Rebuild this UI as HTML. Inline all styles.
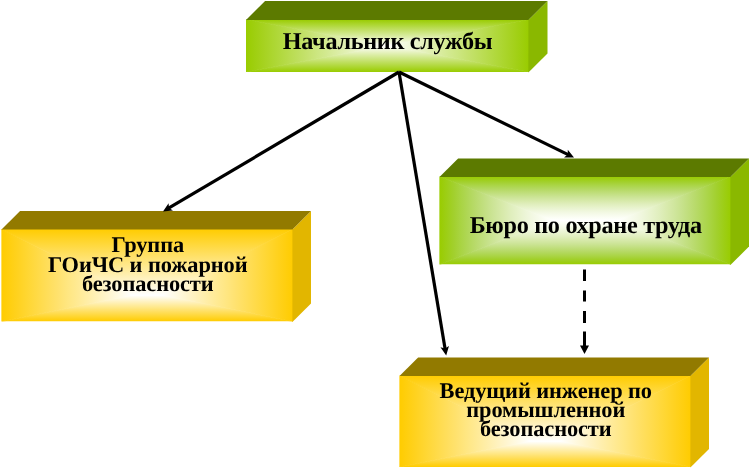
<!DOCTYPE html>
<html><head><meta charset="utf-8"><style>
html,body{margin:0;padding:0;background:#fff;}
body{width:750px;height:469px;position:relative;overflow:hidden;}
svg.main{position:absolute;left:0;top:0;}
.t{position:absolute;text-align:center;font-family:"Liberation Serif",serif;font-weight:bold;color:#000;white-space:nowrap;will-change:transform;text-rendering:geometricPrecision;}
</style></head><body>
<svg class="main" width="750" height="469" viewBox="0 0 750 469">
<linearGradient id="b1v" gradientUnits="userSpaceOnUse" x1="0" y1="19.5" x2="0" y2="45.75"><stop offset="0.000" stop-color="#99cc00"/><stop offset="0.062" stop-color="#9fcf10"/><stop offset="0.125" stop-color="#a6d220"/><stop offset="0.188" stop-color="#acd630"/><stop offset="0.250" stop-color="#b2d940"/><stop offset="0.312" stop-color="#b9dc50"/><stop offset="0.375" stop-color="#bfdf60"/><stop offset="0.438" stop-color="#c6e270"/><stop offset="0.500" stop-color="#cce680"/><stop offset="0.562" stop-color="#d2e98f"/><stop offset="0.625" stop-color="#d9ec9f"/><stop offset="0.688" stop-color="#dfefaf"/><stop offset="0.750" stop-color="#e6f2bf"/><stop offset="0.812" stop-color="#ecf5cf"/><stop offset="0.875" stop-color="#f2f9df"/><stop offset="0.938" stop-color="#f9fcef"/><stop offset="1.000" stop-color="#ffffff"/></linearGradient>
<linearGradient id="b1vb" gradientUnits="userSpaceOnUse" x1="0" y1="72" x2="0" y2="45.75"><stop offset="0.000" stop-color="#99cc00"/><stop offset="0.062" stop-color="#9fcf10"/><stop offset="0.125" stop-color="#a6d220"/><stop offset="0.188" stop-color="#acd630"/><stop offset="0.250" stop-color="#b2d940"/><stop offset="0.312" stop-color="#b9dc50"/><stop offset="0.375" stop-color="#bfdf60"/><stop offset="0.438" stop-color="#c6e270"/><stop offset="0.500" stop-color="#cce680"/><stop offset="0.562" stop-color="#d2e98f"/><stop offset="0.625" stop-color="#d9ec9f"/><stop offset="0.688" stop-color="#dfefaf"/><stop offset="0.750" stop-color="#e6f2bf"/><stop offset="0.812" stop-color="#ecf5cf"/><stop offset="0.875" stop-color="#f2f9df"/><stop offset="0.938" stop-color="#f9fcef"/><stop offset="1.000" stop-color="#ffffff"/></linearGradient>
<linearGradient id="b1h" gradientUnits="userSpaceOnUse" x1="246" y1="0" x2="387.5" y2="0"><stop offset="0.000" stop-color="#99cc00"/><stop offset="0.062" stop-color="#9fcf10"/><stop offset="0.125" stop-color="#a6d220"/><stop offset="0.188" stop-color="#acd630"/><stop offset="0.250" stop-color="#b2d940"/><stop offset="0.312" stop-color="#b9dc50"/><stop offset="0.375" stop-color="#bfdf60"/><stop offset="0.438" stop-color="#c6e270"/><stop offset="0.500" stop-color="#cce680"/><stop offset="0.562" stop-color="#d2e98f"/><stop offset="0.625" stop-color="#d9ec9f"/><stop offset="0.688" stop-color="#dfefaf"/><stop offset="0.750" stop-color="#e6f2bf"/><stop offset="0.812" stop-color="#ecf5cf"/><stop offset="0.875" stop-color="#f2f9df"/><stop offset="0.938" stop-color="#f9fcef"/><stop offset="1.000" stop-color="#ffffff"/></linearGradient>
<linearGradient id="b1hr" gradientUnits="userSpaceOnUse" x1="529" y1="0" x2="387.5" y2="0"><stop offset="0.000" stop-color="#99cc00"/><stop offset="0.062" stop-color="#9fcf10"/><stop offset="0.125" stop-color="#a6d220"/><stop offset="0.188" stop-color="#acd630"/><stop offset="0.250" stop-color="#b2d940"/><stop offset="0.312" stop-color="#b9dc50"/><stop offset="0.375" stop-color="#bfdf60"/><stop offset="0.438" stop-color="#c6e270"/><stop offset="0.500" stop-color="#cce680"/><stop offset="0.562" stop-color="#d2e98f"/><stop offset="0.625" stop-color="#d9ec9f"/><stop offset="0.688" stop-color="#dfefaf"/><stop offset="0.750" stop-color="#e6f2bf"/><stop offset="0.812" stop-color="#ecf5cf"/><stop offset="0.875" stop-color="#f2f9df"/><stop offset="0.938" stop-color="#f9fcef"/><stop offset="1.000" stop-color="#ffffff"/></linearGradient>
<svg x="246" y="19.5" width="283" height="52.5" viewBox="246 19.5 283 52.5" overflow="hidden">
<rect x="246" y="19.5" width="283" height="52.5" fill="#fff"/>
<polygon points="246,19.5 387.5,45.75 246,72" fill="url(#b1h)" stroke="url(#b1h)" stroke-width="1" stroke-linejoin="round"/>
<polygon points="529,19.5 387.5,45.75 529,72" fill="url(#b1hr)" stroke="url(#b1hr)" stroke-width="1" stroke-linejoin="round"/>
<polygon points="246,19.5 529,19.5 387.5,45.75 387.5,45.75" fill="url(#b1v)"/>
<polygon points="246,72 529,72 387.5,45.75 387.5,45.75" fill="url(#b1vb)"/>
</svg>
<polygon points="528.4,20.1 547.5,1.0 547.5,53.5 528.4,72.6" fill="#8ab800"/>
<polygon points="246,20.1 265.1,1.0 547.5,1.0 528.4,20.1" fill="#5c7a00"/>
<linearGradient id="b2v" gradientUnits="userSpaceOnUse" x1="0" y1="229" x2="0" y2="295.25"><stop offset="0.000" stop-color="#ffcc00"/><stop offset="0.062" stop-color="#ffcf10"/><stop offset="0.125" stop-color="#ffd220"/><stop offset="0.188" stop-color="#ffd630"/><stop offset="0.250" stop-color="#ffd940"/><stop offset="0.312" stop-color="#ffdc50"/><stop offset="0.375" stop-color="#ffdf60"/><stop offset="0.438" stop-color="#ffe270"/><stop offset="0.500" stop-color="#ffe680"/><stop offset="0.562" stop-color="#ffe98f"/><stop offset="0.625" stop-color="#ffec9f"/><stop offset="0.688" stop-color="#ffefaf"/><stop offset="0.750" stop-color="#fff2bf"/><stop offset="0.812" stop-color="#fff5cf"/><stop offset="0.875" stop-color="#fff9df"/><stop offset="0.938" stop-color="#fffcef"/><stop offset="1.000" stop-color="#ffffff"/></linearGradient>
<linearGradient id="b2vb" gradientUnits="userSpaceOnUse" x1="0" y1="321.5" x2="0" y2="295.25"><stop offset="0.000" stop-color="#ffcc00"/><stop offset="0.062" stop-color="#ffcf10"/><stop offset="0.125" stop-color="#ffd220"/><stop offset="0.188" stop-color="#ffd630"/><stop offset="0.250" stop-color="#ffd940"/><stop offset="0.312" stop-color="#ffdc50"/><stop offset="0.375" stop-color="#ffdf60"/><stop offset="0.438" stop-color="#ffe270"/><stop offset="0.500" stop-color="#ffe680"/><stop offset="0.562" stop-color="#ffe98f"/><stop offset="0.625" stop-color="#ffec9f"/><stop offset="0.688" stop-color="#ffefaf"/><stop offset="0.750" stop-color="#fff2bf"/><stop offset="0.812" stop-color="#fff5cf"/><stop offset="0.875" stop-color="#fff9df"/><stop offset="0.938" stop-color="#fffcef"/><stop offset="1.000" stop-color="#ffffff"/></linearGradient>
<linearGradient id="b2h" gradientUnits="userSpaceOnUse" x1="1.5" y1="0" x2="132.675" y2="0"><stop offset="0.000" stop-color="#ffcc00"/><stop offset="0.062" stop-color="#ffcf10"/><stop offset="0.125" stop-color="#ffd220"/><stop offset="0.188" stop-color="#ffd630"/><stop offset="0.250" stop-color="#ffd940"/><stop offset="0.312" stop-color="#ffdc50"/><stop offset="0.375" stop-color="#ffdf60"/><stop offset="0.438" stop-color="#ffe270"/><stop offset="0.500" stop-color="#ffe680"/><stop offset="0.562" stop-color="#ffe98f"/><stop offset="0.625" stop-color="#ffec9f"/><stop offset="0.688" stop-color="#ffefaf"/><stop offset="0.750" stop-color="#fff2bf"/><stop offset="0.812" stop-color="#fff5cf"/><stop offset="0.875" stop-color="#fff9df"/><stop offset="0.938" stop-color="#fffcef"/><stop offset="1.000" stop-color="#ffffff"/></linearGradient>
<linearGradient id="b2hr" gradientUnits="userSpaceOnUse" x1="293" y1="0" x2="161.825" y2="0"><stop offset="0.000" stop-color="#ffcc00"/><stop offset="0.062" stop-color="#ffcf10"/><stop offset="0.125" stop-color="#ffd220"/><stop offset="0.188" stop-color="#ffd630"/><stop offset="0.250" stop-color="#ffd940"/><stop offset="0.312" stop-color="#ffdc50"/><stop offset="0.375" stop-color="#ffdf60"/><stop offset="0.438" stop-color="#ffe270"/><stop offset="0.500" stop-color="#ffe680"/><stop offset="0.562" stop-color="#ffe98f"/><stop offset="0.625" stop-color="#ffec9f"/><stop offset="0.688" stop-color="#ffefaf"/><stop offset="0.750" stop-color="#fff2bf"/><stop offset="0.812" stop-color="#fff5cf"/><stop offset="0.875" stop-color="#fff9df"/><stop offset="0.938" stop-color="#fffcef"/><stop offset="1.000" stop-color="#ffffff"/></linearGradient>
<svg x="1.5" y="229" width="291.5" height="92.5" viewBox="1.5 229 291.5 92.5" overflow="hidden">
<rect x="1.5" y="229" width="291.5" height="92.5" fill="#fff"/>
<polygon points="1.5,229 132.675,295.25 1.5,321.5" fill="url(#b2h)" stroke="url(#b2h)" stroke-width="1" stroke-linejoin="round"/>
<polygon points="293,229 161.825,295.25 293,321.5" fill="url(#b2hr)" stroke="url(#b2hr)" stroke-width="1" stroke-linejoin="round"/>
<polygon points="1.5,229 293,229 161.825,295.25 132.675,295.25" fill="url(#b2v)"/>
<polygon points="1.5,321.5 293,321.5 161.825,295.25 132.675,295.25" fill="url(#b2vb)"/>
</svg>
<polygon points="292.4,229.6 311,211 311,303.5 292.4,322.1" fill="#e2b600"/>
<polygon points="1.5,229.6 20.1,211 311,211 292.4,229.6" fill="#927a00"/>
<linearGradient id="b3v" gradientUnits="userSpaceOnUse" x1="0" y1="176.5" x2="0" y2="220.5"><stop offset="0.000" stop-color="#99cc00"/><stop offset="0.062" stop-color="#9dce16"/><stop offset="0.125" stop-color="#a2d02d"/><stop offset="0.188" stop-color="#a9d443"/><stop offset="0.250" stop-color="#b0d757"/><stop offset="0.312" stop-color="#b8da6a"/><stop offset="0.375" stop-color="#c0de7c"/><stop offset="0.438" stop-color="#c8e28e"/><stop offset="0.500" stop-color="#d0e69e"/><stop offset="0.562" stop-color="#d8eaac"/><stop offset="0.625" stop-color="#dfeebc"/><stop offset="0.688" stop-color="#e6f2c9"/><stop offset="0.750" stop-color="#ecf5d6"/><stop offset="0.812" stop-color="#f2f8e2"/><stop offset="0.875" stop-color="#f7fbec"/><stop offset="0.938" stop-color="#fcfef6"/><stop offset="1.000" stop-color="#ffffff"/></linearGradient>
<linearGradient id="b3vb" gradientUnits="userSpaceOnUse" x1="0" y1="264.5" x2="0" y2="220.5"><stop offset="0.000" stop-color="#99cc00"/><stop offset="0.062" stop-color="#9dce16"/><stop offset="0.125" stop-color="#a2d02d"/><stop offset="0.188" stop-color="#a9d443"/><stop offset="0.250" stop-color="#b0d757"/><stop offset="0.312" stop-color="#b8da6a"/><stop offset="0.375" stop-color="#c0de7c"/><stop offset="0.438" stop-color="#c8e28e"/><stop offset="0.500" stop-color="#d0e69e"/><stop offset="0.562" stop-color="#d8eaac"/><stop offset="0.625" stop-color="#dfeebc"/><stop offset="0.688" stop-color="#e6f2c9"/><stop offset="0.750" stop-color="#ecf5d6"/><stop offset="0.812" stop-color="#f2f8e2"/><stop offset="0.875" stop-color="#f7fbec"/><stop offset="0.938" stop-color="#fcfef6"/><stop offset="1.000" stop-color="#ffffff"/></linearGradient>
<linearGradient id="b3h" gradientUnits="userSpaceOnUse" x1="439.5" y1="0" x2="553.185" y2="0"><stop offset="0.000" stop-color="#99cc00"/><stop offset="0.062" stop-color="#9dce16"/><stop offset="0.125" stop-color="#a2d02d"/><stop offset="0.188" stop-color="#a9d443"/><stop offset="0.250" stop-color="#b0d757"/><stop offset="0.312" stop-color="#b8da6a"/><stop offset="0.375" stop-color="#c0de7c"/><stop offset="0.438" stop-color="#c8e28e"/><stop offset="0.500" stop-color="#d0e69e"/><stop offset="0.562" stop-color="#d8eaac"/><stop offset="0.625" stop-color="#dfeebc"/><stop offset="0.688" stop-color="#e6f2c9"/><stop offset="0.750" stop-color="#ecf5d6"/><stop offset="0.812" stop-color="#f2f8e2"/><stop offset="0.875" stop-color="#f7fbec"/><stop offset="0.938" stop-color="#fcfef6"/><stop offset="1.000" stop-color="#ffffff"/></linearGradient>
<linearGradient id="b3hr" gradientUnits="userSpaceOnUse" x1="731" y1="0" x2="617.315" y2="0"><stop offset="0.000" stop-color="#99cc00"/><stop offset="0.062" stop-color="#9dce16"/><stop offset="0.125" stop-color="#a2d02d"/><stop offset="0.188" stop-color="#a9d443"/><stop offset="0.250" stop-color="#b0d757"/><stop offset="0.312" stop-color="#b8da6a"/><stop offset="0.375" stop-color="#c0de7c"/><stop offset="0.438" stop-color="#c8e28e"/><stop offset="0.500" stop-color="#d0e69e"/><stop offset="0.562" stop-color="#d8eaac"/><stop offset="0.625" stop-color="#dfeebc"/><stop offset="0.688" stop-color="#e6f2c9"/><stop offset="0.750" stop-color="#ecf5d6"/><stop offset="0.812" stop-color="#f2f8e2"/><stop offset="0.875" stop-color="#f7fbec"/><stop offset="0.938" stop-color="#fcfef6"/><stop offset="1.000" stop-color="#ffffff"/></linearGradient>
<svg x="439.5" y="176.5" width="291.5" height="88.0" viewBox="439.5 176.5 291.5 88.0" overflow="hidden">
<rect x="439.5" y="176.5" width="291.5" height="88.0" fill="#fff"/>
<polygon points="439.5,176.5 553.185,220.5 439.5,264.5" fill="url(#b3h)" stroke="url(#b3h)" stroke-width="1" stroke-linejoin="round"/>
<polygon points="731,176.5 617.315,220.5 731,264.5" fill="url(#b3hr)" stroke="url(#b3hr)" stroke-width="1" stroke-linejoin="round"/>
<polygon points="439.5,176.5 731,176.5 617.315,220.5 553.185,220.5" fill="url(#b3v)"/>
<polygon points="439.5,264.5 731,264.5 617.315,220.5 553.185,220.5" fill="url(#b3vb)"/>
</svg>
<polygon points="730.4,177.1 749,158.5 749,246.5 730.4,265.1" fill="#8ab800"/>
<polygon points="439.5,177.1 458.1,158.5 749,158.5 730.4,177.1" fill="#5c7a00"/>
<linearGradient id="b4v" gradientUnits="userSpaceOnUse" x1="0" y1="375.5" x2="0" y2="441.25"><stop offset="0.000" stop-color="#ffcc00"/><stop offset="0.062" stop-color="#ffcf10"/><stop offset="0.125" stop-color="#ffd220"/><stop offset="0.188" stop-color="#ffd630"/><stop offset="0.250" stop-color="#ffd940"/><stop offset="0.312" stop-color="#ffdc50"/><stop offset="0.375" stop-color="#ffdf60"/><stop offset="0.438" stop-color="#ffe270"/><stop offset="0.500" stop-color="#ffe680"/><stop offset="0.562" stop-color="#ffe98f"/><stop offset="0.625" stop-color="#ffec9f"/><stop offset="0.688" stop-color="#ffefaf"/><stop offset="0.750" stop-color="#fff2bf"/><stop offset="0.812" stop-color="#fff5cf"/><stop offset="0.875" stop-color="#fff9df"/><stop offset="0.938" stop-color="#fffcef"/><stop offset="1.000" stop-color="#ffffff"/></linearGradient>
<linearGradient id="b4vb" gradientUnits="userSpaceOnUse" x1="0" y1="467" x2="0" y2="441.25"><stop offset="0.000" stop-color="#ffcc00"/><stop offset="0.062" stop-color="#ffcf10"/><stop offset="0.125" stop-color="#ffd220"/><stop offset="0.188" stop-color="#ffd630"/><stop offset="0.250" stop-color="#ffd940"/><stop offset="0.312" stop-color="#ffdc50"/><stop offset="0.375" stop-color="#ffdf60"/><stop offset="0.438" stop-color="#ffe270"/><stop offset="0.500" stop-color="#ffe680"/><stop offset="0.562" stop-color="#ffe98f"/><stop offset="0.625" stop-color="#ffec9f"/><stop offset="0.688" stop-color="#ffefaf"/><stop offset="0.750" stop-color="#fff2bf"/><stop offset="0.812" stop-color="#fff5cf"/><stop offset="0.875" stop-color="#fff9df"/><stop offset="0.938" stop-color="#fffcef"/><stop offset="1.000" stop-color="#ffffff"/></linearGradient>
<linearGradient id="b4h" gradientUnits="userSpaceOnUse" x1="399.5" y1="0" x2="530.675" y2="0"><stop offset="0.000" stop-color="#ffcc00"/><stop offset="0.062" stop-color="#ffcf10"/><stop offset="0.125" stop-color="#ffd220"/><stop offset="0.188" stop-color="#ffd630"/><stop offset="0.250" stop-color="#ffd940"/><stop offset="0.312" stop-color="#ffdc50"/><stop offset="0.375" stop-color="#ffdf60"/><stop offset="0.438" stop-color="#ffe270"/><stop offset="0.500" stop-color="#ffe680"/><stop offset="0.562" stop-color="#ffe98f"/><stop offset="0.625" stop-color="#ffec9f"/><stop offset="0.688" stop-color="#ffefaf"/><stop offset="0.750" stop-color="#fff2bf"/><stop offset="0.812" stop-color="#fff5cf"/><stop offset="0.875" stop-color="#fff9df"/><stop offset="0.938" stop-color="#fffcef"/><stop offset="1.000" stop-color="#ffffff"/></linearGradient>
<linearGradient id="b4hr" gradientUnits="userSpaceOnUse" x1="691" y1="0" x2="559.825" y2="0"><stop offset="0.000" stop-color="#ffcc00"/><stop offset="0.062" stop-color="#ffcf10"/><stop offset="0.125" stop-color="#ffd220"/><stop offset="0.188" stop-color="#ffd630"/><stop offset="0.250" stop-color="#ffd940"/><stop offset="0.312" stop-color="#ffdc50"/><stop offset="0.375" stop-color="#ffdf60"/><stop offset="0.438" stop-color="#ffe270"/><stop offset="0.500" stop-color="#ffe680"/><stop offset="0.562" stop-color="#ffe98f"/><stop offset="0.625" stop-color="#ffec9f"/><stop offset="0.688" stop-color="#ffefaf"/><stop offset="0.750" stop-color="#fff2bf"/><stop offset="0.812" stop-color="#fff5cf"/><stop offset="0.875" stop-color="#fff9df"/><stop offset="0.938" stop-color="#fffcef"/><stop offset="1.000" stop-color="#ffffff"/></linearGradient>
<svg x="399.5" y="375.5" width="291.5" height="91.5" viewBox="399.5 375.5 291.5 91.5" overflow="hidden">
<rect x="399.5" y="375.5" width="291.5" height="91.5" fill="#fff"/>
<polygon points="399.5,375.5 530.675,441.25 399.5,467" fill="url(#b4h)" stroke="url(#b4h)" stroke-width="1" stroke-linejoin="round"/>
<polygon points="691,375.5 559.825,441.25 691,467" fill="url(#b4hr)" stroke="url(#b4hr)" stroke-width="1" stroke-linejoin="round"/>
<polygon points="399.5,375.5 691,375.5 559.825,441.25 530.675,441.25" fill="url(#b4v)"/>
<polygon points="399.5,467 691,467 559.825,441.25 530.675,441.25" fill="url(#b4vb)"/>
</svg>
<polygon points="690.4,376.1 709,357.5 709,449 690.4,467.6" fill="#e2b600"/>
<polygon points="399.5,376.1 418.1,357.5 709,357.5 690.4,376.1" fill="#927a00"/>
<line x1="399" y1="72" x2="168.17" y2="208.45" stroke="#000" stroke-width="3.2"/><polygon points="163,211.5 168.56,203.22 169.03,207.94 172.94,210.62" fill="#000"/>
<line x1="399" y1="72" x2="568.61" y2="154.87" stroke="#000" stroke-width="3.2"/><polygon points="574,157.5 564.03,157.41 567.71,154.43 567.80,149.69" fill="#000"/>
<line x1="399" y1="72" x2="445.21" y2="349.58" stroke="#000" stroke-width="3.2"/><polygon points="446.2,355.5 440.48,347.33 445.05,348.60 448.96,345.92" fill="#000"/>
<rect x="583" y="269.5" width="3" height="11.5" fill="#000"/><rect x="583" y="290.5" width="3" height="11.0" fill="#000"/><rect x="583" y="311" width="3" height="12" fill="#000"/><rect x="583" y="331.5" width="3" height="14.5" fill="#000"/><polygon points="584.5,354 580,345.5 589,345.5" fill="#000"/>
</svg>
<div class="t" style="left:246px;width:283px;top:29.93px;font-size:24.2px;line-height:24px;letter-spacing:-0.3px">Начальник службы</div>
<div class="t" style="left:1.5px;width:291.5px;top:235.09px;font-size:22.4px;line-height:19.5px;letter-spacing:-0.1px">Группа<br>ГОиЧС и пожарной<br>безопасности</div>
<div class="t" style="left:439.5px;width:291.5px;top:213.63px;font-size:24.2px;line-height:24px;letter-spacing:-0.3px">Бюро по охране труда</div>
<div class="t" style="left:399.5px;width:291.5px;top:381.12px;font-size:22.4px;line-height:19.05px;letter-spacing:-0.1px">Ведущий инженер по<br>промышленной<br>безопасности</div>
</body></html>
